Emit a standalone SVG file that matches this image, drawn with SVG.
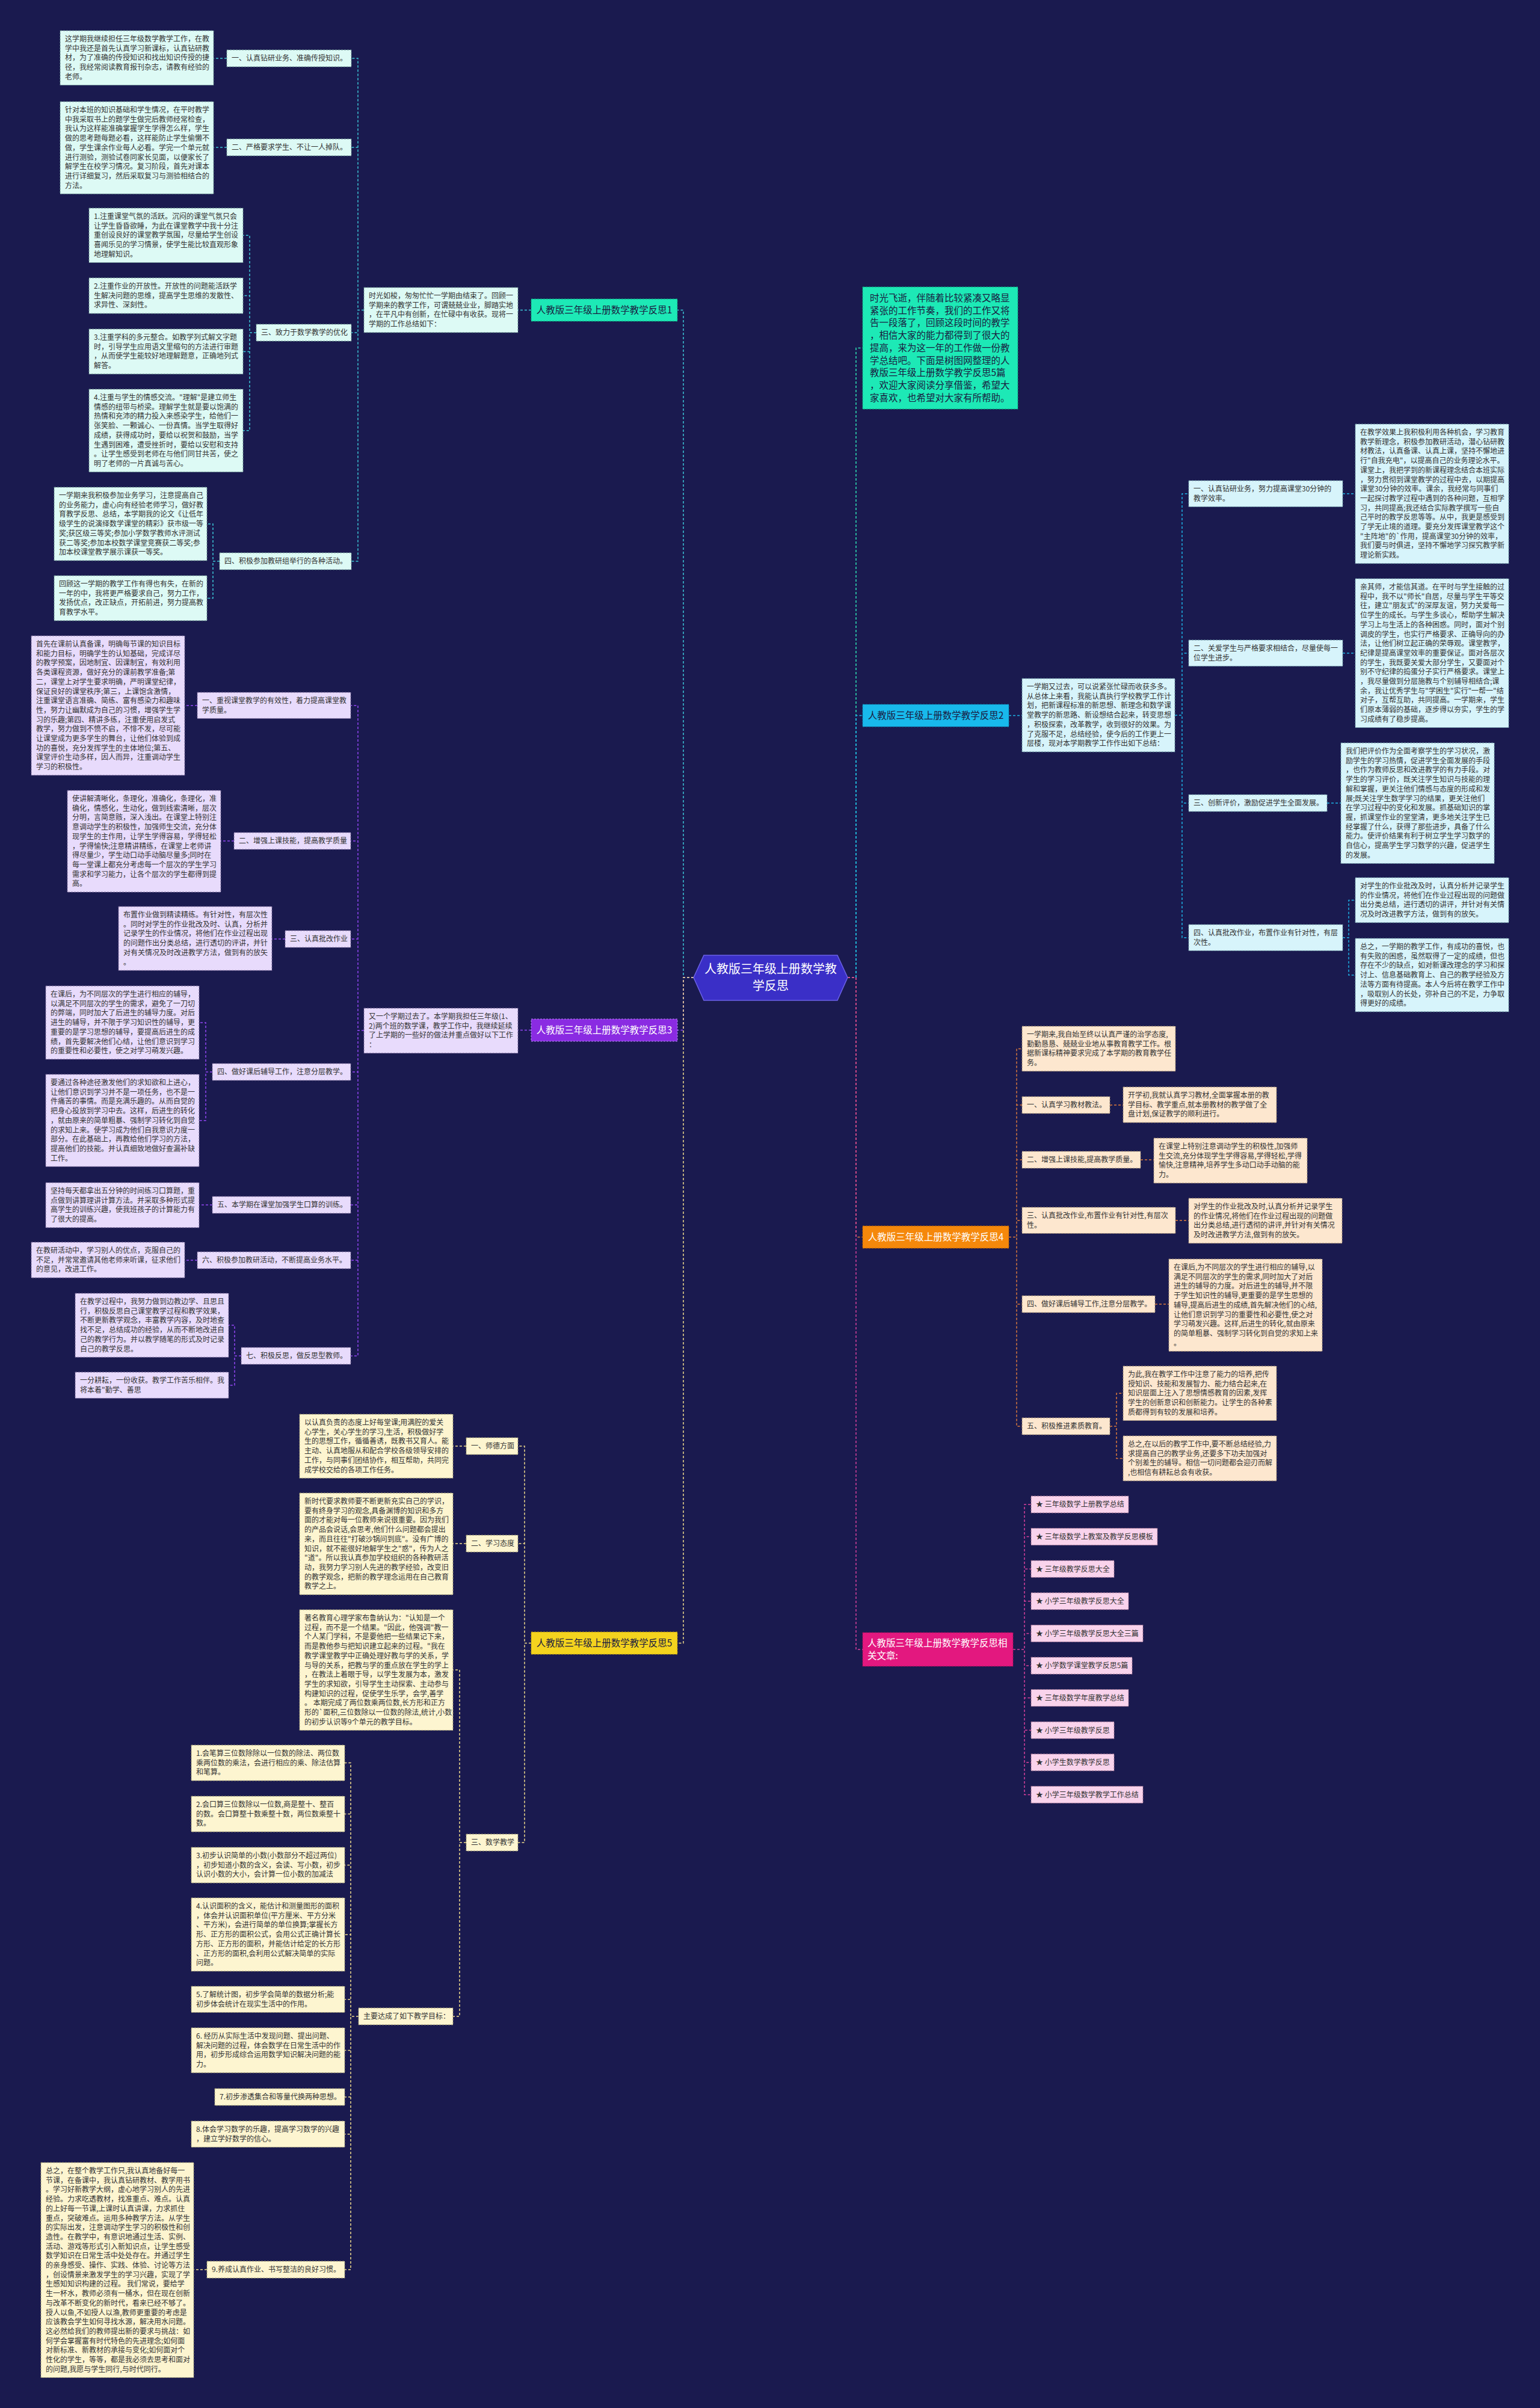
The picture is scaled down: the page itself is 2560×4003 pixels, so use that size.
<svg xmlns="http://www.w3.org/2000/svg" width="2560" height="4003" viewBox="0 0 2560 4003">
<style>
.t{font-family:"Noto Sans CJK SC","Noto Sans",sans-serif;font-size:12px;fill:#333}
.b{font-size:15.5px}
.cn{font-size:20px;fill:#fff}
.w{fill:#fff}
.m{text-anchor:middle}
rect{stroke-width:1;stroke-dasharray:3 2}
.k1{fill:#ddfaf5;stroke:#6f9994}
.k2{fill:#d7f4fb;stroke:#6d9aa6}
.k3{fill:#e8dbfc;stroke:#7b6a9a}
.k4{fill:#fde7cf;stroke:#a08a70}
.k5{fill:#fdf5d0;stroke:#a09a70}
.k6{fill:#f9d3ec;stroke:#a07090}
.c{fill:none;stroke-width:1.5;stroke-dasharray:4 3}
.c0{stroke:#2ee3b5}.c1{stroke:#3cc6d8}.c2{stroke:#1db3e6}.c3{stroke:#9146f2}.c4{stroke:#dc7a3c}.c5{stroke:#efdc8c}.c6{stroke:#d6409c}
</style>
<rect x="0" y="0" width="2560" height="4003" fill="#1a1a4f" stroke="none"/>

<g id="connectors">
<path class="c c1" d="M1153 1625 H1136 V515.5 H1126 M883 515.5 H861 M605 515.5 H595 V97 H584 M605 515.5 H595 V245 H584 M605 515.5 H595 V553 H584 M605 515.5 H595 V933 H584 M377 97 H355 M377 245 H355 M426 553 H415 V391.2 H404 M426 553 H415 V491.5 H404 M426 553 H415 V584.4 H404 M426 553 H415 V715.8 H404 M365 933 H354 V871 H344 M365 933 H354 V994.4 H344"/>
<path class="c c3" d="M1153 1625 H1136 V1712.5 H1126 M883 1712.5 H861 M605 1713 H595 V1172.7 H583 M605 1713 H595 V1398 H583 M605 1713 H595 V1561 H583 M605 1713 H595 V1782 H583 M605 1713 H595 V2003 H583 M605 1713 H595 V2095 H583 M605 1713 H595 V2254 H583 M328 1172.7 H307 M389 1398 H367 M474 1561 H452 M353 1782 H342 V1700 H331 M353 1782 H342 V1862.7 H331 M353 2003 H331 M328 2095 H307 M401 2254 H390 V2203 H380 M401 2254 H390 V2302.7 H380"/>
<path class="c c5" d="M1153 1625 H1136 V2731.5 H1126 M883 2731.5 H872 V2404 H861 M883 2731.5 H872 V2566 H861 M883 2731.5 H872 V3063 H861 M775 2404 H753 M775 2566 H753 M775 3063 H764 V2776 H753 M775 3063 H764 V3352 H753 M596 3352 H583 V2930.6 H573 M596 3352 H583 V3015.6 H573 M596 3352 H583 V3100.6 H573 M596 3352 H583 V3216 H573 M596 3352 H583 V3323.7 H573 M596 3352 H583 V3408.4 H573 M596 3352 H583 V3486 H573 M596 3352 H583 V3547.7 H573 M596 3352 H583 V3773 H573 M344 3773 H322"/>
<path class="c c0" d="M1409 1625 H1423 V578.5 H1434"/>
<path class="c c2" d="M1409 1625 H1423 V1189.5 H1434 M1677 1189.5 H1699 M1953 1189 H1965 V820.7 H1976 M1953 1189 H1965 V1085.7 H1976 M1953 1189 H1965 V1335 H1976 M1953 1189 H1965 V1558.7 H1976 M2232 820.7 H2253 M2232 1085.7 H2253 M2206 1335 H2229 M2232 1558.7 H2242 V1496.4 H2253 M2232 1558.7 H2242 V1621 H2253"/>
<path class="c c4" d="M1409 1625 H1423 V2056.5 H1434 M1677 2056.5 H1690 V1743.4 H1699 M1677 2056.5 H1690 V1837 H1699 M1677 2056.5 H1690 V1928 H1699 M1677 2056.5 H1690 V2028.7 H1699 M1677 2056.5 H1690 V2168 H1699 M1677 2056.5 H1690 V2371 H1699 M1845 1837 H1867 M1896 1928 H1918 M1954 2028.7 H1976 M1920 2168 H1943 M1845 2371 H1856 V2316.2 H1867 M1845 2371 H1856 V2424.4 H1867"/>
<path class="c c6" d="M1409 1625 H1423 V2742 H1434 M1684 2742 H1703 V2501 H1714 M1684 2742 H1703 V2554.6 H1714 M1684 2742 H1703 V2608.2 H1714 M1684 2742 H1703 V2661.8 H1714 M1684 2742 H1703 V2715.4 H1714 M1684 2742 H1703 V2769 H1714 M1684 2742 H1703 V2822.6 H1714 M1684 2742 H1703 V2876.2 H1714 M1684 2742 H1703 V2929.8 H1714 M1684 2742 H1703 V2983.4 H1714"/>
</g>

<g id="n-center">
<polygon points="1153,1625 1170,1588 1392,1588 1409,1625 1392,1663 1170,1663" fill="#3a2fc7" stroke="#6b62e6" stroke-width="1.5"/>
<text class="t cn m" x="1281" y="1618"><tspan x="1281">人教版三年级上册数学教</tspan><tspan x="1281" dy="28">学反思</tspan></text>
</g>

<!-- 反思1 -->
<g id="n-r1"><rect x="883" y="497" width="243" height="37" fill="#1de9b6" stroke="#0fa07c"/><text class="t b m" x="1004.5" y="521" style="fill:#1a1a40">人教版三年级上册数学教学反思1</text></g>
<g id="n-r1-intro"><rect class="k1" x="605" y="478" width="256" height="74.8"/><text class="t" x="613" y="496"><tspan x="613">时光如梭，匆匆忙忙一学期由结束了。回顾一</tspan><tspan x="613" dy="15.7">学期来的教学工作，可谓兢兢业业，脚踏实地</tspan><tspan x="613" dy="15.7">，在平凡中有创新，在忙碌中有收获。现将一</tspan><tspan x="613" dy="15.7">学期的工作总结如下：</tspan></text></g>
<g id="n-r1-l1"><rect class="k1" x="377" y="83" width="207" height="28"/><text class="t" x="385" y="101">一、认真钻研业务、准确传授知识。</text></g>
<g id="n-r1-t1"><rect class="k1" x="100" y="51" width="255" height="90.5"/><text class="t" x="108" y="69"><tspan x="108">这学期我继续担任三年级数学教学工作，在教</tspan><tspan x="108" dy="15.7">学中我还是首先认真学习新课标，认真钻研教</tspan><tspan x="108" dy="15.7">材，为了准确的传授知识和找出知识传授的捷</tspan><tspan x="108" dy="15.7">径，我经常阅读教育报刊杂志，请教有经验的</tspan><tspan x="108" dy="15.7">老师。</tspan></text></g>
<g id="n-r1-l2"><rect class="k1" x="377" y="231" width="207" height="28"/><text class="t" x="385" y="249">二、严格要求学生、不让一人掉队。</text></g>
<g id="n-r1-t2"><rect class="k1" x="100" y="169" width="255" height="153.3"/><text class="t" x="108" y="187"><tspan x="108">针对本班的知识基础和学生情况，在平时教学</tspan><tspan x="108" dy="15.7">中我采取书上的题学生做完后教师经常检查，</tspan><tspan x="108" dy="15.7">我认为这样能准确掌握学生学得怎么样，学生</tspan><tspan x="108" dy="15.7">做的思考题每题必看，这样能防止学生偷懒不</tspan><tspan x="108" dy="15.7">做，学生课余作业每人必看。学完一个单元就</tspan><tspan x="108" dy="15.7">进行测验，测验试卷同家长见面，以便家长了</tspan><tspan x="108" dy="15.7">解学生在校学习情况。复习阶段，首先对课本</tspan><tspan x="108" dy="15.7">进行详细复习，然后采取复习与测验相结合的</tspan><tspan x="108" dy="15.7">方法。</tspan></text></g>
<g id="n-r1-l3"><rect class="k1" x="426" y="539" width="158" height="28"/><text class="t" x="434" y="557">三、致力于数学教学的优化</text></g>
<g id="n-r1-t3a"><rect class="k1" x="148" y="346" width="256" height="90.5"/><text class="t" x="156" y="364"><tspan x="156">1.注重课堂气氛的活跃。沉闷的课堂气氛只会</tspan><tspan x="156" dy="15.7">让学生昏昏欲睡，为此在课堂教学中我十分注</tspan><tspan x="156" dy="15.7">重创设良好的课堂教学氛围，尽量给学生创设</tspan><tspan x="156" dy="15.7">喜闻乐见的学习情景，使学生能比较直观形象</tspan><tspan x="156" dy="15.7">地理解知识。</tspan></text></g>
<g id="n-r1-t3b"><rect class="k1" x="148" y="462" width="256" height="59.1"/><text class="t" x="156" y="480"><tspan x="156">2.注重作业的开放性。开放性的问题能活跃学</tspan><tspan x="156" dy="15.7">生解决问题的思维，提高学生思维的发散性、</tspan><tspan x="156" dy="15.7">求异性、深刻性。</tspan></text></g>
<g id="n-r1-t3c"><rect class="k1" x="148" y="547" width="256" height="74.8"/><text class="t" x="156" y="565"><tspan x="156">3.注重学科的多元整合。如教学列式解文字题</tspan><tspan x="156" dy="15.7">时，引导学生应用语文里缩句的方法进行审题</tspan><tspan x="156" dy="15.7">，从而使学生能较好地理解题意，正确地列式</tspan><tspan x="156" dy="15.7">解答。</tspan></text></g>
<g id="n-r1-t3d"><rect class="k1" x="148" y="647" width="256" height="137.6"/><text class="t" x="156" y="665"><tspan x="156">4.注重与学生的情感交流。"理解"是建立师生</tspan><tspan x="156" dy="15.7">情感的纽带与桥梁。理解学生就是要以饱满的</tspan><tspan x="156" dy="15.7">热情和充沛的精力投入来感染学生，给他们一</tspan><tspan x="156" dy="15.7">张笑脸、一颗诚心、一份真情。当学生取得好</tspan><tspan x="156" dy="15.7">成绩，获得成功时，要给以祝贺和鼓励，当学</tspan><tspan x="156" dy="15.7">生遇到困难，遭受挫折时，要给以安慰和支持</tspan><tspan x="156" dy="15.7">。让学生感受到老师在与他们同甘共苦，使之</tspan><tspan x="156" dy="15.7">明了老师的一片真诚与苦心。</tspan></text></g>
<g id="n-r1-l4"><rect class="k1" x="365" y="919" width="219" height="28"/><text class="t" x="373" y="937">四、积极参加教研组举行的各种活动。</text></g>
<g id="n-r1-t4a"><rect class="k1" x="90" y="810" width="254" height="121.9"/><text class="t" x="98" y="828"><tspan x="98">一学期来我积极参加业务学习，注意提高自己</tspan><tspan x="98" dy="15.7">的业务能力，虚心向有经验老师学习，做好教</tspan><tspan x="98" dy="15.7">育教学反思、总结，本学期我的论文《让低年</tspan><tspan x="98" dy="15.7">级学生的说演绎数学课堂的精彩》获市级一等</tspan><tspan x="98" dy="15.7">奖;获区级三等奖;参加小学数学教师水评测试</tspan><tspan x="98" dy="15.7">获二等奖;参加本校数学课堂竞赛获二等奖;参</tspan><tspan x="98" dy="15.7">加本校课堂教学展示课获一等奖。</tspan></text></g>
<g id="n-r1-t4b"><rect class="k1" x="90" y="957" width="254" height="74.8"/><text class="t" x="98" y="975"><tspan x="98">回顾这一学期的教学工作有得也有失，在新的</tspan><tspan x="98" dy="15.7">一年的中，我将更严格要求自己，努力工作，</tspan><tspan x="98" dy="15.7">发扬优点，改正缺点，开拓前进，努力提高教</tspan><tspan x="98" dy="15.7">育教学水平。</tspan></text></g>

<!-- 反思3 -->
<g id="n-r3"><rect x="883" y="1694" width="243" height="37" fill="#8a2be2" stroke="#b58af5"/><text class="t b m w" x="1004.5" y="1718">人教版三年级上册数学教学反思3</text></g>
<g id="n-r3-intro"><rect class="k3" x="605" y="1676" width="256" height="74.8"/><text class="t" x="613" y="1694"><tspan x="613">又一个学期过去了。本学期我担任三年级(1、</tspan><tspan x="613" dy="15.7">2)两个班的数学课，教学工作中，我继续延续</tspan><tspan x="613" dy="15.7">了上学期的一些好的做法并重点做好以下工作</tspan><tspan x="613" dy="15.7">：</tspan></text></g>
<g id="n-r3-l1"><rect class="k3" x="328" y="1151" width="255" height="43.4"/><text class="t" x="336" y="1169"><tspan x="336">一、重视课堂教学的有效性，着力提高课堂教</tspan><tspan x="336" dy="15.7">学质量。</tspan></text></g>
<g id="n-r3-t1"><rect class="k3" x="52" y="1057" width="255" height="231.8"/><text class="t" x="60" y="1075"><tspan x="60">首先在课前认真备课，明确每节课的知识目标</tspan><tspan x="60" dy="15.7">和能力目标，明确学生的认知基础，完成详尽</tspan><tspan x="60" dy="15.7">的教学预案，因地制宜、因课制宜，有效利用</tspan><tspan x="60" dy="15.7">各类课程资源，做好充分的课前教学准备;第</tspan><tspan x="60" dy="15.7">二，课堂上对学生要求明确，严明课堂纪律，</tspan><tspan x="60" dy="15.7">保证良好的课堂秩序;第三，上课饱含激情，</tspan><tspan x="60" dy="15.7">注重课堂语言准确、简练、富有感染力和趣味</tspan><tspan x="60" dy="15.7">性，努力让幽默成为自己的习惯，增强学生学</tspan><tspan x="60" dy="15.7">习的乐趣;第四、精讲多练，注重使用启发式</tspan><tspan x="60" dy="15.7">教学，努力做到不愤不启，不悱不发，尽可能</tspan><tspan x="60" dy="15.7">让课堂成为更多学生的舞台，让他们体验到成</tspan><tspan x="60" dy="15.7">功的喜悦，充分发挥学生的主体地位;第五、</tspan><tspan x="60" dy="15.7">课堂评价生动多样，因人而异，注重调动学生</tspan><tspan x="60" dy="15.7">学习的积极性。</tspan></text></g>
<g id="n-r3-l2"><rect class="k3" x="389" y="1384" width="194" height="28"/><text class="t" x="397" y="1402">二、增强上课技能，提高教学质量</text></g>
<g id="n-r3-t2"><rect class="k3" x="112" y="1314" width="255" height="169"/><text class="t" x="120" y="1332"><tspan x="120">使讲解清晰化，条理化，准确化，条理化，准</tspan><tspan x="120" dy="15.7">确化，情感化，生动化，做到线索清晰，层次</tspan><tspan x="120" dy="15.7">分明，言简意赅，深入浅出。在课堂上特别注</tspan><tspan x="120" dy="15.7">意调动学生的积极性，加强师生交流，充分体</tspan><tspan x="120" dy="15.7">现学生的主作用，让学生学得容易，学得轻松</tspan><tspan x="120" dy="15.7">，学得愉快;注意精讲精练，在课堂上老师讲</tspan><tspan x="120" dy="15.7">得尽量少，学生动口动手动脑尽量多;同时在</tspan><tspan x="120" dy="15.7">每一堂课上都充分考虑每一个层次的学生学习</tspan><tspan x="120" dy="15.7">需求和学习能力，让各个层次的学生都得到提</tspan><tspan x="120" dy="15.7">高。</tspan></text></g>
<g id="n-r3-l3"><rect class="k3" x="474" y="1547" width="109" height="28"/><text class="t" x="482" y="1565">三、认真批改作业</text></g>
<g id="n-r3-t3"><rect class="k3" x="197" y="1507" width="255" height="106.2"/><text class="t" x="205" y="1525"><tspan x="205">布置作业做到精读精练。有针对性，有层次性</tspan><tspan x="205" dy="15.7">。同时对学生的作业批改及时、认真，分析并</tspan><tspan x="205" dy="15.7">记录学生的作业情况，将他们在作业过程出现</tspan><tspan x="205" dy="15.7">的问题作出分类总结，进行透切的评讲，并针</tspan><tspan x="205" dy="15.7">对有关情况及时改进教学方法，做到有的放矢</tspan><tspan x="205" dy="15.7">。</tspan></text></g>
<g id="n-r3-l4"><rect class="k3" x="353" y="1768" width="230" height="28"/><text class="t" x="361" y="1786">四、做好课后辅导工作，注意分层教学。</text></g>
<g id="n-r3-t4a"><rect class="k3" x="76" y="1639" width="255" height="121.9"/><text class="t" x="84" y="1657"><tspan x="84">在课后，为不同层次的学生进行相应的辅导，</tspan><tspan x="84" dy="15.7">以满足不同层次的学生的需求，避免了一刀切</tspan><tspan x="84" dy="15.7">的弊端，同时加大了后进生的辅导力度。对后</tspan><tspan x="84" dy="15.7">进生的辅导，并不限于学习知识性的辅导，更</tspan><tspan x="84" dy="15.7">重要的是学习思想的辅导，要提高后进生的成</tspan><tspan x="84" dy="15.7">绩，首先要解决他们心结，让他们意识到学习</tspan><tspan x="84" dy="15.7">的重要性和必要性，使之对学习萌发兴趣。</tspan></text></g>
<g id="n-r3-t4b"><rect class="k3" x="76" y="1786" width="255" height="153.3"/><text class="t" x="84" y="1804"><tspan x="84">要通过各种途径激发他们的求知欲和上进心，</tspan><tspan x="84" dy="15.7">让他们意识到学习并不是一项任务，也不是一</tspan><tspan x="84" dy="15.7">件痛苦的事情。而是充满乐趣的。从而自觉的</tspan><tspan x="84" dy="15.7">把身心投放到学习中去。这样，后进生的转化</tspan><tspan x="84" dy="15.7">，就由原来的简单粗暴、强制学习转化到自觉</tspan><tspan x="84" dy="15.7">的求知上来。使学习成为他们自我意识力度一</tspan><tspan x="84" dy="15.7">部分。在此基础上，再教给他们学习的方法，</tspan><tspan x="84" dy="15.7">提高他们的技能。并认真细致地做好查漏补缺</tspan><tspan x="84" dy="15.7">工作。</tspan></text></g>
<g id="n-r3-l5"><rect class="k3" x="353" y="1989" width="230" height="28"/><text class="t" x="361" y="2007">五、本学期在课堂加强学生口算的训练。</text></g>
<g id="n-r3-t5"><rect class="k3" x="76" y="1966" width="255" height="74.8"/><text class="t" x="84" y="1984"><tspan x="84">坚持每天都拿出五分钟的时间练习口算题，重</tspan><tspan x="84" dy="15.7">点做到讲算理讲计算方法。并采取多种形式提</tspan><tspan x="84" dy="15.7">高学生的训练兴趣，使我班孩子的计算能力有</tspan><tspan x="84" dy="15.7">了很大的提高。</tspan></text></g>
<g id="n-r3-l6"><rect class="k3" x="328" y="2081" width="255" height="28"/><text class="t" x="336" y="2099">六、积极参加教研活动，不断提高业务水平。</text></g>
<g id="n-r3-t6"><rect class="k3" x="52" y="2065" width="255" height="59.1"/><text class="t" x="60" y="2083"><tspan x="60">在教研活动中，学习别人的优点，克服自己的</tspan><tspan x="60" dy="15.7">不足，并常常邀请其他老师来听课，征求他们</tspan><tspan x="60" dy="15.7">的意见，改进工作。</tspan></text></g>
<g id="n-r3-l7"><rect class="k3" x="401" y="2240" width="182" height="28"/><text class="t" x="409" y="2258">七、积极反思，做反思型教师。</text></g>
<g id="n-r3-t7a"><rect class="k3" x="125" y="2150" width="255" height="106.2"/><text class="t" x="133" y="2168"><tspan x="133">在教学过程中，我努力做到边教边学、且思且</tspan><tspan x="133" dy="15.7">行，积极反思自己课堂教学过程和教学效果，</tspan><tspan x="133" dy="15.7">不断更新教学观念，丰富教学内容，及时地查</tspan><tspan x="133" dy="15.7">找不足，总结成功的经验，从而不断地改进自</tspan><tspan x="133" dy="15.7">己的教学行为。并以教学随笔的形式及时记录</tspan><tspan x="133" dy="15.7">自己的教学反思。</tspan></text></g>
<g id="n-r3-t7b"><rect class="k3" x="125" y="2281" width="255" height="43.4"/><text class="t" x="133" y="2299"><tspan x="133">一分耕耘，一份收获。教学工作苦乐相伴。我</tspan><tspan x="133" dy="15.7">将本着"勤学、善思</tspan></text></g>

<!-- 反思5 -->
<g id="n-r5"><rect x="883" y="2713" width="243" height="37" fill="#f4d31e" stroke="#b89a10"/><text class="t b m" x="1004.5" y="2737" style="fill:#1a1a40">人教版三年级上册数学教学反思5</text></g>
<g id="n-r5-l1"><rect class="k5" x="775" y="2390" width="86" height="28"/><text class="t" x="783" y="2408">一、师德方面</text></g>
<g id="n-r5-t1"><rect class="k5" x="498" y="2351" width="255" height="106.2"/><text class="t" x="506" y="2369"><tspan x="506">以认真负责的态度上好每堂课;用满腔的爱关</tspan><tspan x="506" dy="15.7">心学生，关心学生的学习,生活，积极做好学</tspan><tspan x="506" dy="15.7">生的思想工作，循循善诱，既教书又育人。能</tspan><tspan x="506" dy="15.7">主动、认真地服从和配合学校各级领导安排的</tspan><tspan x="506" dy="15.7">工作，与同事们团结协作，相互帮助，共同完</tspan><tspan x="506" dy="15.7">成学校交给的各项工作任务。</tspan></text></g>
<g id="n-r5-l2"><rect class="k5" x="775" y="2552" width="86" height="28"/><text class="t" x="783" y="2570">二、学习态度</text></g>
<g id="n-r5-t2"><rect class="k5" x="498" y="2482" width="255" height="169"/><text class="t" x="506" y="2500"><tspan x="506">新时代要求教师要不断更新充实自己的学识，</tspan><tspan x="506" dy="15.7">要有终身学习的观念,具备渊博的知识和多方</tspan><tspan x="506" dy="15.7">面的才能对每一位教师来说很重要。因为我们</tspan><tspan x="506" dy="15.7">的产品会说话,会思考,他们什么问题都会提出</tspan><tspan x="506" dy="15.7">来，而且往往"打破沙锅问到底"。没有广博的</tspan><tspan x="506" dy="15.7">知识，就不能很好地解学生之"惑"，传为人之</tspan><tspan x="506" dy="15.7">"道"。所以我认真参加学校组织的各种教研活</tspan><tspan x="506" dy="15.7">动，我努力学习别人先进的教学经验，改变旧</tspan><tspan x="506" dy="15.7">的教学观念，把新的教学理念运用在自己教育</tspan><tspan x="506" dy="15.7">教学之上。</tspan></text></g>
<g id="n-r5-l3"><rect class="k5" x="775" y="3049" width="86" height="28"/><text class="t" x="783" y="3067">三、数学教学</text></g>
<g id="n-r5-t3"><rect class="k5" x="498" y="2676" width="255" height="200.4"/><text class="t" x="506" y="2694"><tspan x="506">著名教育心理学家布鲁纳认为："认知是一个</tspan><tspan x="506" dy="15.7">过程，而不是一个结果。"因此，他强调"教一</tspan><tspan x="506" dy="15.7">个人某门学科，不是要他把一些结果记下来，</tspan><tspan x="506" dy="15.7">而是教他参与把知识建立起来的过程。"我在</tspan><tspan x="506" dy="15.7">教学课堂教学中正确处理好教与学的关系，学</tspan><tspan x="506" dy="15.7">与导的关系，把教与学的重点放在学生的学上</tspan><tspan x="506" dy="15.7">，在教法上着眼于导，以学生发展为本，激发</tspan><tspan x="506" dy="15.7">学生的求知欲，引导学生主动探索、主动参与</tspan><tspan x="506" dy="15.7">构建知识的过程，促使学生乐学，会学,善学</tspan><tspan x="506" dy="15.7">。 本期完成了两位数乘两位数,长方形和正方</tspan><tspan x="506" dy="15.7">形的`面积,三位数除以一位数的除法,统计,小数</tspan><tspan x="506" dy="15.7">的初步认识等9个单元的教学目标。</tspan></text></g>
<g id="n-r5-goal"><rect class="k5" x="596" y="3338" width="157" height="28"/><text class="t" x="604" y="3356">主要达成了如下教学目标：</text></g>
<g id="n-r5-i1"><rect class="k5" x="318" y="2901" width="255" height="59.1"/><text class="t" x="326" y="2919"><tspan x="326">1.会笔算三位数除除以一位数的除法、两位数</tspan><tspan x="326" dy="15.7">乘两位数的乘法，会进行相应的乘、除法估算</tspan><tspan x="326" dy="15.7">和笔算。</tspan></text></g>
<g id="n-r5-i2"><rect class="k5" x="318" y="2986" width="255" height="59.1"/><text class="t" x="326" y="3004"><tspan x="326">2.会口算三位数除以一位数,商是整十、整百</tspan><tspan x="326" dy="15.7">的数。会口算整十数乘整十数，两位数乘整十</tspan><tspan x="326" dy="15.7">数。</tspan></text></g>
<g id="n-r5-i3"><rect class="k5" x="318" y="3071" width="255" height="59.1"/><text class="t" x="326" y="3089"><tspan x="326">3.初步认识简单的小数(小数部分不超过两位)</tspan><tspan x="326" dy="15.7">，初步知道小数的含义，会读、写小数，初步</tspan><tspan x="326" dy="15.7">认识小数的大小，会计算一位小数的加减法</tspan></text></g>
<g id="n-r5-i4"><rect class="k5" x="318" y="3155" width="255" height="121.9"/><text class="t" x="326" y="3173"><tspan x="326">4.认识面积的含义，能估计和测量图形的面积</tspan><tspan x="326" dy="15.7">，体会并认识面积单位(平方厘米、平方分米</tspan><tspan x="326" dy="15.7">、平方米)，会进行简单的单位换算;掌握长方</tspan><tspan x="326" dy="15.7">形、正方形的面积公式，会用公式正确计算长</tspan><tspan x="326" dy="15.7">方形、正方形的面积，并能估计给定的长方形</tspan><tspan x="326" dy="15.7">、正方形的面积,会利用公式解决简单的实际</tspan><tspan x="326" dy="15.7">问题。</tspan></text></g>
<g id="n-r5-i5"><rect class="k5" x="318" y="3302" width="255" height="43.4"/><text class="t" x="326" y="3320"><tspan x="326">5.了解统计图，初步学会简单的数据分析;能</tspan><tspan x="326" dy="15.7">初步体会统计在现实生活中的作用。</tspan></text></g>
<g id="n-r5-i6"><rect class="k5" x="318" y="3371" width="255" height="74.8"/><text class="t" x="326" y="3389"><tspan x="326">6. 经历从实际生活中发现问题、提出问题、</tspan><tspan x="326" dy="15.7">解决问题的过程，体会数学在日常生活中的作</tspan><tspan x="326" dy="15.7">用，初步形成综合运用数学知识解决问题的能</tspan><tspan x="326" dy="15.7">力。</tspan></text></g>
<g id="n-r5-i7"><rect class="k5" x="357" y="3472" width="216" height="28"/><text class="t" x="365" y="3490">7.初步渗透集合和等量代换两种思想。</text></g>
<g id="n-r5-i8"><rect class="k5" x="318" y="3526" width="255" height="43.4"/><text class="t" x="326" y="3544"><tspan x="326">8.体会学习数学的乐趣，提高学习数学的兴趣</tspan><tspan x="326" dy="15.7">，建立学好数学的信心。</tspan></text></g>
<g id="n-r5-i9"><rect class="k5" x="344" y="3759" width="229" height="28"/><text class="t" x="352" y="3777">9.养成认真作业、书写整洁的良好习惯。</text></g>
<g id="n-r5-sum"><rect class="k5" x="68" y="3595" width="254" height="357.4"/><text class="t" x="76" y="3613"><tspan x="76">总之，在整个教学工作只,我认真地备好每一</tspan><tspan x="76" dy="15.7">节课，在备课中，我认真钻研教材、教学用书</tspan><tspan x="76" dy="15.7">。学习好新教学大纲，虚心地学习别人的先进</tspan><tspan x="76" dy="15.7">经验。力求吃透教材，找准重点、难点。认真</tspan><tspan x="76" dy="15.7">的上好每一节课,上课时认真讲课，力求抓住</tspan><tspan x="76" dy="15.7">重点，突破难点。运用多种教学方法。从学生</tspan><tspan x="76" dy="15.7">的实际出发，注意调动学生学习的积极性和创</tspan><tspan x="76" dy="15.7">造性。在教学中，有意识地通过生活、实例、</tspan><tspan x="76" dy="15.7">活动、游戏等形式引入新知识点，让学生感受</tspan><tspan x="76" dy="15.7">数学知识在日常生活中处处存在。并通过学生</tspan><tspan x="76" dy="15.7">的亲身感受、操作、实践、体验、讨论等方法</tspan><tspan x="76" dy="15.7">，创设情景来激发学生的学习兴趣，实现了学</tspan><tspan x="76" dy="15.7">生感知知识构建的过程。 我们常说，要给学</tspan><tspan x="76" dy="15.7">生一杯水，教师必须有一桶水，但在现在创新</tspan><tspan x="76" dy="15.7">与改革不断变化的新时代，看来已经不够了。</tspan><tspan x="76" dy="15.7">授人以鱼,不如授人以渔,教师更重要的考虑是</tspan><tspan x="76" dy="15.7">应该教会学生如何寻找水源，解决用水问题。</tspan><tspan x="76" dy="15.7">这必然给我们的教师提出新的要求与挑战：如</tspan><tspan x="76" dy="15.7">何学会掌握富有时代特色的先进理念;如何面</tspan><tspan x="76" dy="15.7">对新标准、新教材的承接与变化;如何面对个</tspan><tspan x="76" dy="15.7">性化的学生，等等，都是我必须去思考和面对</tspan><tspan x="76" dy="15.7">的问题,我愿与学生同行,与时代同行。</tspan></text></g>

<!-- right intro -->
<g id="n-intro"><rect x="1434" y="477" width="258" height="203" fill="#1de9b6" stroke="#0fa07c"/><text class="t b" x="1446" y="501" style="fill:#1a1a40"><tspan x="1446">时光飞逝，伴随着比较紧凑又略显</tspan><tspan x="1446" dy="20.7">紧张的工作节奏，我们的工作又将</tspan><tspan x="1446" dy="20.7">告一段落了，回顾这段时间的教学</tspan><tspan x="1446" dy="20.7">，相信大家的能力都得到了很大的</tspan><tspan x="1446" dy="20.7">提高，来为这一年的工作做一份教</tspan><tspan x="1446" dy="20.7">学总结吧。下面是树图网整理的人</tspan><tspan x="1446" dy="20.7">教版三年级上册数学教学反思5篇</tspan><tspan x="1446" dy="20.7">，欢迎大家阅读分享借鉴，希望大</tspan><tspan x="1446" dy="20.7">家喜欢，也希望对大家有所帮助。</tspan></text></g>

<!-- 反思2 -->
<g id="n-r2"><rect x="1434" y="1171" width="243" height="37" fill="#18b9ec" stroke="#0d86b0"/><text class="t b m" x="1555.5" y="1195" style="fill:#1a1a40">人教版三年级上册数学教学反思2</text></g>
<g id="n-r2-intro"><rect class="k2" x="1699" y="1128" width="254" height="121.9"/><text class="t" x="1707" y="1146"><tspan x="1707">一学期又过去，可以说紧张忙碌而收获多多。</tspan><tspan x="1707" dy="15.7">从总体上来看，我能认真执行学校教学工作计</tspan><tspan x="1707" dy="15.7">划，把新课程标准的新思想、新理念和数学课</tspan><tspan x="1707" dy="15.7">堂教学的新思路、新设想结合起来，转变思想</tspan><tspan x="1707" dy="15.7">，积极探索，改革教学，收到很好的效果。为</tspan><tspan x="1707" dy="15.7">了克服不足，总结经验，使今后的工作更上一</tspan><tspan x="1707" dy="15.7">层楼，现对本学期教学工作作出如下总结：</tspan></text></g>
<g id="n-r2-l1"><rect class="k2" x="1976" y="799" width="256" height="43.4"/><text class="t" x="1984" y="817"><tspan x="1984">一、认真钻研业务，努力提高课堂30分钟的</tspan><tspan x="1984" dy="15.7">教学效率。</tspan></text></g>
<g id="n-r2-t1"><rect class="k2" x="2253" y="705" width="255" height="231.8"/><text class="t" x="2261" y="723"><tspan x="2261">在教学效果上我积极利用各种机会，学习教育</tspan><tspan x="2261" dy="15.7">教学新理念，积极参加教研活动，潜心钻研教</tspan><tspan x="2261" dy="15.7">材教法，认真备课、认真上课，坚持不懈地进</tspan><tspan x="2261" dy="15.7">行"自我充电"，以提高自己的业务理论水平。</tspan><tspan x="2261" dy="15.7">课堂上，我把学到的新课程理念结合本班实际</tspan><tspan x="2261" dy="15.7">，努力贯彻到课堂教学的过程中去，以期提高</tspan><tspan x="2261" dy="15.7">课堂30分钟的效率。课余，我经常与同事们</tspan><tspan x="2261" dy="15.7">一起探讨教学过程中遇到的各种问题，互相学</tspan><tspan x="2261" dy="15.7">习，共同提高;我还结合实际教学撰写一些自</tspan><tspan x="2261" dy="15.7">己平时的教学反思等等。从中，我更是感受到</tspan><tspan x="2261" dy="15.7">了学无止境的道理。要充分发挥课堂教学这个</tspan><tspan x="2261" dy="15.7">"主阵地"的`作用，提高课堂30分钟的效率，</tspan><tspan x="2261" dy="15.7">我们要与时俱进，坚持不懈地学习探究教学新</tspan><tspan x="2261" dy="15.7">理论新实践。</tspan></text></g>
<g id="n-r2-l2"><rect class="k2" x="1976" y="1064" width="256" height="43.4"/><text class="t" x="1984" y="1082"><tspan x="1984">二、关爱学生与严格要求相结合，尽量使每一</tspan><tspan x="1984" dy="15.7">位学生进步。</tspan></text></g>
<g id="n-r2-t2"><rect class="k2" x="2253" y="962" width="255" height="247.5"/><text class="t" x="2261" y="980"><tspan x="2261">亲其师，才能信其道。在平时与学生接触的过</tspan><tspan x="2261" dy="15.7">程中，我不以"师长"自居，尽量与学生平等交</tspan><tspan x="2261" dy="15.7">往，建立"朋友式"的深厚友谊，努力关爱每一</tspan><tspan x="2261" dy="15.7">位学生的成长。与学生多谈心，帮助学生解决</tspan><tspan x="2261" dy="15.7">学习上与生活上的各种困惑。同时，面对个别</tspan><tspan x="2261" dy="15.7">调皮的学生，也实行严格要求、正确导向的办</tspan><tspan x="2261" dy="15.7">法，让他们树立起正确的荣辱观。课堂教学，</tspan><tspan x="2261" dy="15.7">纪律是提高课堂效率的重要保证。面对各层次</tspan><tspan x="2261" dy="15.7">的学生，我既要关爱大部分学生，又要面对个</tspan><tspan x="2261" dy="15.7">别不守纪律的捣蛋分子实行严格要求。课堂上</tspan><tspan x="2261" dy="15.7">，我尽量做到分层施教与个别辅导相结合;课</tspan><tspan x="2261" dy="15.7">余，我让优秀学生与"学困生"实行"一帮一"结</tspan><tspan x="2261" dy="15.7">对子，互帮互助，共同提高。一学期来，学生</tspan><tspan x="2261" dy="15.7">们原本薄弱的基础，逐步得以夯实，学生的学</tspan><tspan x="2261" dy="15.7">习成绩有了稳步提高。</tspan></text></g>
<g id="n-r2-l3"><rect class="k2" x="1976" y="1321" width="230" height="28"/><text class="t" x="1984" y="1339">三、创新评价，激励促进学生全面发展。</text></g>
<g id="n-r2-t3"><rect class="k2" x="2229" y="1235" width="255" height="200.4"/><text class="t" x="2237" y="1253"><tspan x="2237">我们把评价作为全面考察学生的学习状况，激</tspan><tspan x="2237" dy="15.7">励学生的学习热情，促进学生全面发展的手段</tspan><tspan x="2237" dy="15.7">，也作为教师反思和改进教学的有力手段。对</tspan><tspan x="2237" dy="15.7">学生的学习评价，既关注学生知识与技能的理</tspan><tspan x="2237" dy="15.7">解和掌握，更关注他们情感与态度的形成和发</tspan><tspan x="2237" dy="15.7">展;既关注学生数学学习的结果，更关注他们</tspan><tspan x="2237" dy="15.7">在学习过程中的变化和发展。抓基础知识的掌</tspan><tspan x="2237" dy="15.7">握，抓课堂作业的堂堂清，更多地关注学生已</tspan><tspan x="2237" dy="15.7">经掌握了什么，获得了那些进步，具备了什么</tspan><tspan x="2237" dy="15.7">能力。使评价结果有利于树立学生学习数学的</tspan><tspan x="2237" dy="15.7">自信心，提高学生学习数学的兴趣，促进学生</tspan><tspan x="2237" dy="15.7">的发展。</tspan></text></g>
<g id="n-r2-l4"><rect class="k2" x="1976" y="1537" width="256" height="43.4"/><text class="t" x="1984" y="1555"><tspan x="1984">四、认真批改作业，布置作业有针对性，有层</tspan><tspan x="1984" dy="15.7">次性。</tspan></text></g>
<g id="n-r2-t4a"><rect class="k2" x="2253" y="1459" width="255" height="74.8"/><text class="t" x="2261" y="1477"><tspan x="2261">对学生的作业批改及时，认真分析并记录学生</tspan><tspan x="2261" dy="15.7">的作业情况，将他们在作业过程出现的问题做</tspan><tspan x="2261" dy="15.7">出分类总结，进行透切的讲评，并针对有关情</tspan><tspan x="2261" dy="15.7">况及时改进教学方法，做到有的放矢。</tspan></text></g>
<g id="n-r2-t4b"><rect class="k2" x="2253" y="1560" width="255" height="121.9"/><text class="t" x="2261" y="1578"><tspan x="2261">总之，一学期的教学工作，有成功的喜悦，也</tspan><tspan x="2261" dy="15.7">有失败的困惑，虽然取得了一定的成绩，但也</tspan><tspan x="2261" dy="15.7">存在不少的缺点，如对新课改理念的学习和探</tspan><tspan x="2261" dy="15.7">讨上、信息基础教育上、自己的教学经验及方</tspan><tspan x="2261" dy="15.7">法等方面有待提高。本人今后将在教学工作中</tspan><tspan x="2261" dy="15.7">，吸取别人的长处，弥补自己的不足，力争取</tspan><tspan x="2261" dy="15.7">得更好的成绩。</tspan></text></g>

<!-- 反思4 -->
<g id="n-r4"><rect x="1434" y="2038" width="243" height="37" fill="#f5880b" stroke="#b86205"/><text class="t b m w" x="1555.5" y="2062">人教版三年级上册数学教学反思4</text></g>
<g id="n-r4-intro"><rect class="k4" x="1699" y="1706" width="255" height="74.8"/><text class="t" x="1707" y="1724"><tspan x="1707">一学期来,我自始至终以认真严谨的治学态度,</tspan><tspan x="1707" dy="15.7">勤勤恳恳、兢兢业业地从事教育教学工作。根</tspan><tspan x="1707" dy="15.7">据新课标精神要求完成了本学期的教育教学任</tspan><tspan x="1707" dy="15.7">务。</tspan></text></g>
<g id="n-r4-l1"><rect class="k4" x="1699" y="1823" width="146" height="28"/><text class="t" x="1707" y="1841">一、认真学习教材教法。</text></g>
<g id="n-r4-t1"><rect class="k4" x="1867" y="1807" width="255" height="59.1"/><text class="t" x="1875" y="1825"><tspan x="1875">开学初,我就认真学习教材,全面掌握本册的教</tspan><tspan x="1875" dy="15.7">学目标、教学重点,就本册教材的教学做了全</tspan><tspan x="1875" dy="15.7">盘计划,保证教学的顺利进行。</tspan></text></g>
<g id="n-r4-l2"><rect class="k4" x="1699" y="1914" width="197" height="28"/><text class="t" x="1707" y="1932">二、增强上课技能,提高教学质量。</text></g>
<g id="n-r4-t2"><rect class="k4" x="1918" y="1892" width="255" height="74.8"/><text class="t" x="1926" y="1910"><tspan x="1926">在课堂上特别注意调动学生的积极性,加强师</tspan><tspan x="1926" dy="15.7">生交流,充分体现学生学得容易,学得轻松,学得</tspan><tspan x="1926" dy="15.7">愉快,注意精神,培养学生多动口动手动脑的能</tspan><tspan x="1926" dy="15.7">力。</tspan></text></g>
<g id="n-r4-l3"><rect class="k4" x="1699" y="2007" width="255" height="43.4"/><text class="t" x="1707" y="2025"><tspan x="1707">三、认真批改作业,布置作业有针对性,有层次</tspan><tspan x="1707" dy="15.7">性。</tspan></text></g>
<g id="n-r4-t3"><rect class="k4" x="1976" y="1992" width="255" height="74.8"/><text class="t" x="1984" y="2010"><tspan x="1984">对学生的作业批改及时,认真分析并记录学生</tspan><tspan x="1984" dy="15.7">的作业情况,将他们在作业过程出现的问题做</tspan><tspan x="1984" dy="15.7">出分类总结,进行透彻的讲评,并针对有关情况</tspan><tspan x="1984" dy="15.7">及时改进教学方法,做到有的放矢。</tspan></text></g>
<g id="n-r4-l4"><rect class="k4" x="1699" y="2154" width="221" height="28"/><text class="t" x="1707" y="2172">四、做好课后辅导工作,注意分层教学。</text></g>
<g id="n-r4-t4"><rect class="k4" x="1943" y="2093" width="255" height="153.3"/><text class="t" x="1951" y="2111"><tspan x="1951">在课后,为不同层次的学生进行相应的辅导,以</tspan><tspan x="1951" dy="15.7">满足不同层次的学生的需求,同时加大了对后</tspan><tspan x="1951" dy="15.7">进生的辅导的力度。对后进生的辅导,并不限</tspan><tspan x="1951" dy="15.7">于学生知识性的辅导,更重要的是学生思想的</tspan><tspan x="1951" dy="15.7">辅导,提高后进生的成绩,首先解决他们的心结,</tspan><tspan x="1951" dy="15.7">让他们意识到学习的重要性和必要性,使之对</tspan><tspan x="1951" dy="15.7">学习萌发兴趣。这样,后进生的转化,就由原来</tspan><tspan x="1951" dy="15.7">的简单粗暴、强制学习转化到自觉的求知上来</tspan><tspan x="1951" dy="15.7">。</tspan></text></g>
<g id="n-r4-l5"><rect class="k4" x="1699" y="2357" width="146" height="28"/><text class="t" x="1707" y="2375">五、积极推进素质教育。</text></g>
<g id="n-r4-t5a"><rect class="k4" x="1867" y="2271" width="255" height="90.5"/><text class="t" x="1875" y="2289"><tspan x="1875">为此,我在教学工作中注意了能力的培养,把传</tspan><tspan x="1875" dy="15.7">授知识、技能和发展智力、能力结合起来,在</tspan><tspan x="1875" dy="15.7">知识层面上注入了思想情感教育的因素,发挥</tspan><tspan x="1875" dy="15.7">学生的创新意识和创新能力。让学生的各种素</tspan><tspan x="1875" dy="15.7">质都得到有较的发展和培养。</tspan></text></g>
<g id="n-r4-t5b"><rect class="k4" x="1867" y="2387" width="255" height="74.8"/><text class="t" x="1875" y="2405"><tspan x="1875">总之,在以后的教学工作中,要不断总结经验,力</tspan><tspan x="1875" dy="15.7">求提高自己的教学业务,还要多下功夫加强对</tspan><tspan x="1875" dy="15.7">个别差生的辅导。相信一切问题都会迎刃而解</tspan><tspan x="1875" dy="15.7">,也相信有耕耘总会有收获。</tspan></text></g>

<!-- related -->
<g id="n-rel"><rect x="1434" y="2714" width="250" height="56" fill="#e3187f" stroke="#a00e58"/><text class="t b w" x="1442" y="2737"><tspan x="1442">人教版三年级上册数学教学反思相</tspan><tspan x="1442" dy="20.7">关文章:</tspan></text></g>
<g id="n-rel-1"><rect class="k6" x="1714" y="2487" width="162" height="28"/><text class="t" x="1722" y="2505.3">★ 三年级数学上册教学总结</text></g>
<g id="n-rel-2"><rect class="k6" x="1714" y="2540.6" width="210" height="28"/><text class="t" x="1722" y="2558.9">★ 三年级数学上教案及教学反思模板</text></g>
<g id="n-rel-3"><rect class="k6" x="1714" y="2594.2" width="138" height="28"/><text class="t" x="1722" y="2612.5">★ 三年级教学反思大全</text></g>
<g id="n-rel-4"><rect class="k6" x="1714" y="2647.8" width="162" height="28"/><text class="t" x="1722" y="2666.1">★ 小学三年级教学反思大全</text></g>
<g id="n-rel-5"><rect class="k6" x="1714" y="2701.4" width="186" height="28"/><text class="t" x="1722" y="2719.7">★ 小学三年级教学反思大全三篇</text></g>
<g id="n-rel-6"><rect class="k6" x="1714" y="2755" width="168" height="28"/><text class="t" x="1722" y="2773.3">★ 小学数学课堂教学反思5篇</text></g>
<g id="n-rel-7"><rect class="k6" x="1714" y="2808.6" width="162" height="28"/><text class="t" x="1722" y="2826.9">★ 三年级数学年度教学总结</text></g>
<g id="n-rel-8"><rect class="k6" x="1714" y="2862.2" width="138" height="28"/><text class="t" x="1722" y="2880.5">★ 小学三年级教学反思</text></g>
<g id="n-rel-9"><rect class="k6" x="1714" y="2915.8" width="138" height="28"/><text class="t" x="1722" y="2934.1">★ 小学生数学教学反思</text></g>
<g id="n-rel-10"><rect class="k6" x="1714" y="2969.4" width="186" height="28"/><text class="t" x="1722" y="2987.7">★ 小学三年级数学教学工作总结</text></g>
</svg>
